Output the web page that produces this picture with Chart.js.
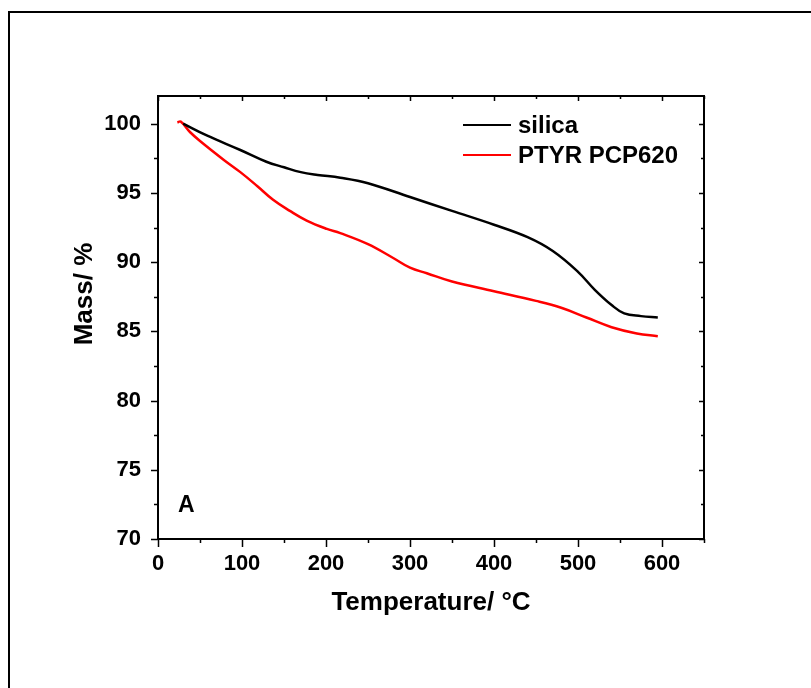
<!DOCTYPE html>
<html>
<head>
<meta charset="utf-8">
<title>TGA</title>
<script src="https://cdn.jsdelivr.net/npm/chart.js@4.4.1/dist/chart.umd.min.js"></script>
<style>
  html, body { margin: 0; padding: 0; background: #fff; }
  canvas { display: block; }
</style>
</head>
<body>
<canvas id="tgaChart" width="811" height="688"></canvas>
<script>
// TGA curves: temperature (°C) vs remaining mass (%)
const tempSilica = [30, 58, 98, 129, 150, 170, 190, 217, 250, 300, 350, 400, 440, 470, 500, 520, 540, 555, 575, 595];
const massSilica = [100.0, 99.15, 98.1, 97.25, 96.85, 96.5, 96.3, 96.1, 95.7, 94.7, 93.7, 92.7, 91.8, 90.8, 89.3, 88.0, 86.9, 86.3, 86.1, 86.0];

const tempPtyr = [23, 27, 38, 50, 78, 98, 118, 137, 157, 177, 201, 217, 250, 280, 300, 320, 350, 400, 450, 480, 510, 540, 570, 595];
const massPtyr = [100.1, 100.15, 99.4, 98.75, 97.4, 96.5, 95.5, 94.5, 93.7, 93.0, 92.4, 92.1, 91.3, 90.3, 89.6, 89.2, 88.6, 87.9, 87.2, 86.7, 86.0, 85.3, 84.85, 84.65];

const seriesNames = ['silica', 'PTYR PCP620'];
const seriesColors = ['#000000', '#ff0000'];

const xTicks = [0, 100, 200, 300, 400, 500, 600];
const yTicks = [70, 75, 80, 85, 90, 95, 100];
const yTitle = 'Mass/ %';
const panelLetter = 'A';

const FONT = '"Liberation Sans", Arial, Helvetica, sans-serif';

function toPoints(xs, ys) {
  return xs.map((x, i) => ({ x: x, y: ys[i] }));
}

// frame, plot box, major/minor ticks, legend, y title and panel letter
const decorations = {
  id: 'decorations',
  beforeDraw(chart) {
    const ctx = chart.ctx;
    ctx.save();
    ctx.strokeStyle = '#000';
    ctx.lineWidth = 2;
    ctx.beginPath();
    ctx.moveTo(9, 688);
    ctx.lineTo(9, 12);
    ctx.lineTo(811, 12);
    ctx.stroke();
    ctx.restore();
  },
  afterDraw(chart) {
    const ctx = chart.ctx;
    const a = chart.chartArea;
    const xs = chart.scales.x;
    const ys = chart.scales.y;
    ctx.save();
    ctx.strokeStyle = '#000';
    ctx.lineWidth = 2;
    ctx.strokeRect(a.left, a.top, a.right - a.left, a.bottom - a.top);

    ctx.lineWidth = 1.5;
    ctx.beginPath();
    const xStep = xTicks[1] - xTicks[0];
    for (let v = xs.min; v <= xs.max + 0.001; v += xStep / 2) {
      const major = xTicks.includes(v);
      const px = Math.round(xs.getPixelForValue(v)) + 0.5;
      ctx.moveTo(px, a.bottom);
      ctx.lineTo(px, a.bottom + (major ? 8 : 4));
      ctx.moveTo(px, a.top);
      ctx.lineTo(px, a.top + (major ? 5 : 3));
    }
    const yStep = yTicks[1] - yTicks[0];
    for (let v = ys.min; v <= ys.max + 0.001; v += yStep / 2) {
      const major = yTicks.includes(v);
      const py = Math.round(ys.getPixelForValue(v)) + 0.5;
      ctx.moveTo(a.left, py);
      ctx.lineTo(a.left - (major ? 7 : 4), py);
      ctx.moveTo(a.right, py);
      ctx.lineTo(a.right - (major ? 5 : 3), py);
    }
    ctx.stroke();

    // legend
    ctx.font = 'bold 24px ' + FONT;
    ctx.textBaseline = 'middle';
    ctx.textAlign = 'left';
    chart.data.datasets.forEach((ds, i) => {
      const y = 125 + i * 30;
      ctx.strokeStyle = ds.borderColor;
      ctx.lineWidth = 2;
      ctx.beginPath();
      ctx.moveTo(463, y);
      ctx.lineTo(511, y);
      ctx.stroke();
      ctx.fillStyle = '#000';
      ctx.fillText(ds.label, 518, y + 1);
    });

    ctx.font = 'bold 23px ' + FONT;
    ctx.fillText(panelLetter, 178, 506);

    // y axis title sits a little above the axis centre
    ctx.save();
    ctx.translate(85, 294);
    ctx.rotate(-Math.PI / 2);
    ctx.textAlign = 'center';
    ctx.font = 'bold 26px ' + FONT;
    ctx.fillText(yTitle, 0, 0);
    ctx.restore();

    ctx.restore();
  }
};

const chart = new Chart(document.getElementById('tgaChart').getContext('2d'), {
  type: 'line',
  data: {
    datasets: [
      {
        label: seriesNames[0],
        data: toPoints(tempSilica, massSilica),
        borderColor: seriesColors[0],
        borderWidth: 2.5,
        pointRadius: 0,
        tension: 0.4,
        fill: false
      },
      {
        label: seriesNames[1],
        data: toPoints(tempPtyr, massPtyr),
        borderColor: seriesColors[1],
        borderWidth: 2.5,
        pointRadius: 0,
        tension: 0.4,
        fill: false
      }
    ]
  },
  options: {
    responsive: false,
    animation: false,
    devicePixelRatio: 1,
    layout: { padding: { top: 96, right: 107, left: 0, bottom: 0 } },
    plugins: {
      legend: { display: false },
      tooltip: { enabled: false }
    },
    scales: {
      x: {
        type: 'linear',
        min: 0,
        max: 650,
        afterFit(scale) { scale.height = 149; },
        afterBuildTicks(scale) { scale.ticks = xTicks.map(v => ({ value: v })); },
        grid: { display: false, drawTicks: false },
        border: { display: false },
        ticks: {
          color: '#000',
          padding: 12,
          maxRotation: 0,
          autoSkip: false,
          font: { family: FONT, size: 22, weight: 'bold' }
        },
        title: {
          display: true,
          text: 'Temperature/ °C',
          color: '#000',
          padding: { top: 0, bottom: 70 },
          font: { family: FONT, size: 26, weight: 'bold' }
        }
      },
      y: {
        type: 'linear',
        min: 70,
        max: 102,
        afterFit(scale) { scale.width = 158; },
        afterBuildTicks(scale) { scale.ticks = yTicks.map(v => ({ value: v })); },
        grid: { display: false, drawTicks: false },
        border: { display: false },
        ticks: {
          color: '#000',
          padding: 17,
          autoSkip: false,
          font: { family: FONT, size: 22, weight: 'bold' }
        },
        title: { display: false }
      }
    }
  },
  plugins: [decorations]
});
</script>
</body>
</html>
